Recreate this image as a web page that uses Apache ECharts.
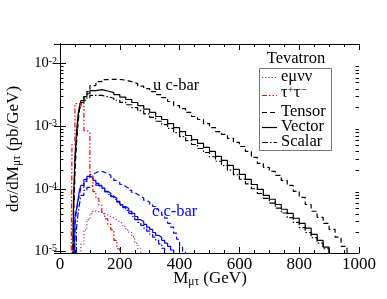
<!DOCTYPE html>
<html><head><meta charset="utf-8">
<script src="https://cdn.jsdelivr.net/npm/echarts@6/dist/echarts.min.js"></script>
<style>html,body{margin:0;padding:0;background:#fff}#c{width:387px;height:299px}</style>
</head><body><div id="c"></div>
<script>
// ---- data ----
const xMin = 0, xMax = 1000, xInterval = 200;
const yMin = 9.4e-6, yMax = 2.06e-2;
const yMinorTicks = [2e-5,3e-5,4e-5,5e-5,6e-5,7e-5,8e-5,9e-5,
  2e-4,3e-4,4e-4,5e-4,6e-4,7e-4,8e-4,9e-4,
  2e-3,3e-3,4e-3,5e-3,6e-3,7e-3,8e-3,9e-3];

// u c-bar : bin lower edges (GeV)
const uEdges = [40,45,50,55,60,65,70,80,90,100,120,140,160,180,200,220,240,260,280,300,
  320,340,360,380,400,420,440,460,480,500,520,540,560,580,600,620,640,660,680,700,
  720,740,760,780,800,820,840,860,880,900,920,940,960];
const uVector = [1e-7,6.5e-5,3.3e-4,7.7e-4,1.48e-3,2.06e-3,2.57e-3,2.98e-3,3.3e-3,3.7e-3,
  3.85e-3,3.65e-3,3.45e-3,3.2e-3,2.92e-3,2.67e-3,2.39e-3,2.14e-3,1.88e-3,1.66e-3,
  1.43e-3,1.28e-3,1.1e-3,9.5e-4,8.2e-4,7.1e-4,6.1e-4,5.3e-4,4.57e-4,3.95e-4,
  3.3e-4,2.84e-4,2.36e-4,2.04e-4,1.7e-4,1.41e-4,1.17e-4,9.8e-5,7.85e-5,6.8e-5,
  5.6e-5,4.7e-5,4.05e-5,3.38e-5,2.8e-5,2.34e-5,1.87e-5,1.5e-5,1.17e-5,1e-7,
  1e-7,1e-7,1e-7];
const uTensor = [1e-7,3e-5,1.7e-4,5.1e-4,1.07e-3,1.85e-3,2.39e-3,2.98e-3,3.57e-3,4.46e-3,
  5.16e-3,5.56e-3,5.6e-3,5.6e-3,5.45e-3,5.16e-3,4.8e-3,4.37e-3,4.0e-3,3.57e-3,
  3.2e-3,2.87e-3,2.48e-3,2.14e-3,1.91e-3,1.66e-3,1.43e-3,1.28e-3,1.1e-3,9.5e-4,
  8.2e-4,7.4e-4,6.4e-4,5.5e-4,4.74e-4,3.95e-4,3.17e-4,2.54e-4,2.2e-4,1.9e-4,
  1.64e-4,1.36e-4,1.13e-4,9.1e-5,7.3e-5,5.6e-5,4.37e-5,3.5e-5,2.8e-5,2.24e-5,
  1.68e-5,1.2e-5,1e-7];
const uScalar = [1e-7,4e-5,2.6e-4,6.5e-4,1.3e-3,1.85e-3,2.3e-3,2.6e-3,2.85e-3,3.1e-3,
  3.1e-3,2.95e-3,2.8e-3,2.6e-3,2.4e-3,2.2e-3,1.98e-3,1.77e-3,1.57e-3,1.38e-3,
  1.2e-3,1.06e-3,9.2e-4,7.9e-4,6.8e-4,5.9e-4,5.1e-4,4.4e-4,3.8e-4,3.25e-4,
  2.75e-4,2.35e-4,1.98e-4,1.68e-4,1.42e-4,1.2e-4,1.0e-4,8.4e-5,7.0e-5,5.9e-5,
  4.9e-5,4.1e-5,3.45e-5,2.9e-5,2.4e-5,2.0e-5,1.65e-5,1.35e-5,1.1e-5,1e-7,
  1e-7,1e-7,1e-7];

// c c-bar
const cEdges = [45,50,55,60,65,70,80,90,100,110,120,130,140,150,160,170,180,190,200,210,
  220,230,240,250,260,270,280,290,300,310,320,330,340,350,360,370,380,390,400,410,420];
const cVector = [1e-7,3.6e-5,4.7e-5,6.5e-5,9.4e-5,1.13e-4,
  1.41e-4,1.58e-4,1.52e-4,1.36e-4,1.22e-4,1.13e-4,1.02e-4,9.1e-5,8.5e-5,7.6e-5,
  7.1e-5,6.3e-5,5.6e-5,5.2e-5,4.85e-5,4.37e-5,4.05e-5,3.6e-5,3.2e-5,3.0e-5,
  2.7e-5,2.43e-5,2.24e-5,2.0e-5,1.8e-5,1.68e-5,1.5e-5,1.35e-5,1.2e-5,1.05e-5,
  1e-7,1e-7,1e-7,1e-7,1e-7];
const cTensor = [1e-7,2.8e-5,4.37e-5,6.1e-5,8.1e-5,1.05e-4,
  1.31e-4,1.52e-4,1.7e-4,1.8e-4,1.9e-4,1.9e-4,1.83e-4,1.73e-4,1.64e-4,1.52e-4,
  1.36e-4,1.27e-4,1.17e-4,1.09e-4,1.02e-4,9.4e-5,8.7e-5,8.1e-5,7.6e-5,7.1e-5,
  6.5e-5,6.1e-5,5.6e-5,5.2e-5,4.7e-5,4.2e-5,3.8e-5,3.4e-5,2.8e-5,2.43e-5,
  1.95e-5,1.56e-5,1.2e-5,1.0e-5,1e-7];
const cScalar = [1e-7,1e-7,2.24e-5,3.9e-5,5.6e-5,7.85e-5,
  9.4e-5,1.05e-4,1.13e-4,1.15e-4,1.13e-4,1.05e-4,9.8e-5,8.9e-5,8.1e-5,7.5e-5,
  6.8e-5,6.1e-5,5.4e-5,5.0e-5,4.5e-5,4.05e-5,3.6e-5,3.2e-5,2.9e-5,2.6e-5,
  2.34e-5,2.1e-5,1.87e-5,1.68e-5,1.5e-5,1.32e-5,1.12e-5,1e-7,1e-7,1e-7,
  1e-7,1e-7,1e-7,1e-7,1e-7];

// backgrounds
const tauEdges = [35,40,50,60,70,80,90,100,110,120,130,140,150,160,170,180,190,200];
const tauVals = [1e-7,5.1e-4,2.3e-3,2.3e-3,2.1e-3,8.5e-4,8e-4,1.6e-4,9e-5,7e-5,5.5e-5,4e-5,3.3e-5,2.7e-5,2.2e-5,1.5e-5,1.1e-5,1e-7];
const emvvEdges = [60,70,80,90,100,110,120,130,140,150,160,170,180,190,200,210,220,230,240,250,260,270];
const emvvVals = [1e-7,1.3e-5,2.2e-5,3.2e-5,4.0e-5,4.4e-5,4.3e-5,4.2e-5,4.0e-5,3.8e-5,3.6e-5,3.4e-5,3.2e-5,3.0e-5,2.8e-5,2.5e-5,2.2e-5,2.0e-5,1.7e-5,1.35e-5,1.1e-5,1e-7];

const legendNames = ['e\u03bc\u03bd\u03bd', '\u03c4+\u03c4\u2212', 'Tensor', 'Vector', 'Scalar'];

// ---- styles ----
const FONT = 'Liberation Serif';
const BLACK = '#000000', BLUE = '#0000ff', RED = '#ff0000', MAROON = '#993366';
const DASH_T = [5, 3], DASH_S = [6, 2, 1.5, 2], DASH_TAU = [5, 2, 1.5, 2, 1.5, 2], DOT = [1.2, 2];
const LW = 1.2;

function hist(name, edges, vals, color, type) {
  return {
    name: name, type: 'line', step: 'end', symbol: 'none', clip: true,
    animation: false, silent: true,
    data: edges.map((x, i) => [x, vals[i]]),
    lineStyle: { color: color, width: LW, type: type, cap: 'butt' }
  };
}

const chart = echarts.init(document.getElementById('c'), null, { renderer: 'canvas' });

const supRich = {
  b: { fontFamily: FONT, fontSize: 14.5, lineHeight: 15, color: '#000', verticalAlign: 'bottom' },
  s: { fontFamily: FONT, fontSize: 10, lineHeight: 10, color: '#000', verticalAlign: 'top', padding: [0, 0, 10, 0] }
};

const yAxisBase = {
  type: 'log', logBase: 10, min: yMin, max: yMax,
  axisLine: { show: true, lineStyle: { color: '#000', width: 1 } },
  axisTick: { show: true, inside: true, length: 6, lineStyle: { color: '#000' } },
  splitLine: { show: false }
};

function supLabel(v) {
  const lg = Math.log10(v);
  const e = Math.round(lg);
  if (Math.abs(lg - e) > 0.01) return '';
  return '{b|10}{s|' + e + '}';
}

const option = {
  backgroundColor: '#ffffff',
  animation: false,
  grid: { left: 60, right: 28, top: 44, bottom: 46, containLabel: false },
  xAxis: [{
    type: 'value', min: xMin, max: xMax, interval: xInterval, position: 'bottom',
    axisLine: { show: true, onZero: false, lineStyle: { color: '#000', width: 1 } },
    axisTick: { show: true, inside: true, length: 6, lineStyle: { color: '#000' } },
    minorTick: { show: true, splitNumber: 4, length: 3, lineStyle: { color: '#000' } },
    splitLine: { show: false },
    axisLabel: { fontFamily: FONT, fontSize: 17, color: '#000', margin: 3, interval: 0,
      formatter: v => String(v) }
  }, {
    type: 'value', min: xMin, max: xMax, interval: xInterval, position: 'top',
    axisLine: { show: true, onZero: false, lineStyle: { color: '#000', width: 1 } },
    axisTick: { show: true, inside: true, length: 6, lineStyle: { color: '#000' } },
    minorTick: { show: true, splitNumber: 4, length: 3, lineStyle: { color: '#000' } },
    splitLine: { show: false },
    axisLabel: { show: false }
  }],
  yAxis: [Object.assign({}, yAxisBase, {
    position: 'left',
    axisLabel: { show: true, margin: 3, formatter: supLabel, rich: supRich,
      showMinLabel: true, showMaxLabel: true }
  }), Object.assign({}, yAxisBase, {
    position: 'right',
    axisLabel: { show: false }
  })],
  series: [
    hist('uTensor', uEdges, uTensor, BLACK, DASH_T),
    hist('uVector', uEdges, uVector, BLACK, 'solid'),
    hist('uScalar', uEdges, uScalar, BLACK, DASH_S),
    hist('cTensor', cEdges, cTensor, BLUE, DASH_T),
    hist('cVector', cEdges, cVector, BLUE, 'solid'),
    hist('cScalar', cEdges, cScalar, BLUE, DASH_S),
    hist('tautau', tauEdges, tauVals, RED, DASH_TAU),
    hist('emvv', emvvEdges, emvvVals, MAROON, DOT),
    {
      type: 'custom', silent: true, animation: false, clip: false,
      data: yMinorTicks.map(v => [xMin, v]),
      renderItem: function (params, api) {
        const v = api.value(1);
        const pl = api.coord([xMin, v]);
        const pr = api.coord([xMax, v]);
        const y = Math.round(pl[1]) + 0.5;
        return {
          type: 'group', children: [
            { type: 'line', shape: { x1: pl[0], y1: y, x2: pl[0] + 3.5, y2: y }, style: { stroke: '#000', lineWidth: 1 } },
            { type: 'line', shape: { x1: pr[0] - 3.5, y1: y, x2: pr[0], y2: y }, style: { stroke: '#000', lineWidth: 1 } }
          ]
        };
      }
    }
  ],
  graphic: []
};

chart.setOption(option);

// ---- texts, legend ----
const g = [];
const subRich = {
  m: { fontFamily: FONT, fontSize: 17, lineHeight: 17, color: '#000', verticalAlign: 'top' },
  u: { fontFamily: FONT, fontSize: 11.5, lineHeight: 11, color: '#000', verticalAlign: 'bottom', padding: [9, 0, 0, 0] }
};
// y title
g.push({ type: 'text', x: 14, y: 149, rotation: Math.PI / 2, silent: true,
  style: { text: '{m|d\u03c3/dM}{u|\u03bc\u03c4}{m| (pb/GeV)}', rich: subRich, align: 'center', verticalAlign: 'middle' } });
// x title
g.push({ type: 'text', x: 210, y: 279, silent: true,
  style: { text: '{m|M}{u|\u03bc\u03c4}{m| (GeV)}', rich: subRich, align: 'center', verticalAlign: 'middle' } });
// curve labels
g.push({ type: 'text', x: 153, y: 86, silent: true,
  style: { text: 'u c-bar', fontFamily: FONT, fontSize: 16.5, fill: '#000', align: 'left', verticalAlign: 'middle' } });
g.push({ type: 'text', x: 152, y: 212, silent: true,
  style: { text: 'c c-bar', fontFamily: FONT, fontSize: 16.5, fill: BLUE, align: 'left', verticalAlign: 'middle' } });
// legend
g.push({ type: 'text', x: 296, y: 59, silent: true,
  style: { text: 'Tevatron', fontFamily: FONT, fontSize: 16.5, fill: '#000', align: 'center', verticalAlign: 'middle' } });
g.push({ type: 'rect', shape: { x: 259.5, y: 68.5, width: 72, height: 82 }, silent: true,
  style: { fill: '#fff', stroke: '#777', lineWidth: 1 } });
const legRows = [
  { y: 77, color: MAROON, dash: DOT },
  { y: 95, color: RED, dash: DASH_TAU },
  { y: 112, color: BLACK, dash: DASH_T },
  { y: 127, color: BLACK, dash: null },
  { y: 142, color: BLACK, dash: DASH_S }
];
const legRich = {
  n: { fontFamily: FONT, fontSize: 16.5, lineHeight: 16, color: '#000', verticalAlign: 'bottom' },
  s: { fontFamily: FONT, fontSize: 11, lineHeight: 10, color: '#000', verticalAlign: 'top', padding: [0, 0, 10, 0] }
};
legRows.forEach((r, i) => {
  g.push({ type: 'line', silent: true, shape: { x1: 262, y1: r.y + 0.5, x2: 277, y2: r.y + 0.5 },
    style: { stroke: r.color, lineWidth: LW, lineDash: r.dash } });
  let txt;
  if (i === 1) txt = '{n|\u03c4}{s|+}{n|\u03c4}{s|\u2212}';
  else txt = '{n|' + legendNames[i] + '}';
  g.push({ type: 'text', x: 281, y: i === 1 ? r.y - 2 : r.y, silent: true,
    style: { text: txt, rich: legRich, align: 'left', verticalAlign: 'middle' } });
});
chart.setOption({ graphic: g });
</script></body></html>
